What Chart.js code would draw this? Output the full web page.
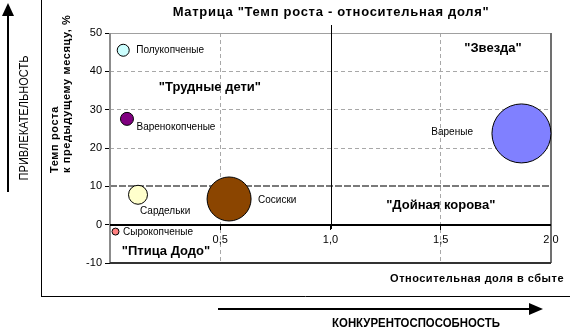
<!DOCTYPE html>
<html lang="ru">
<head>
<meta charset="utf-8">
<script src="https://cdn.jsdelivr.net/npm/chart.js@4/dist/chart.umd.min.js"></script>
<style>
  html, body { margin: 0; padding: 0; background: #fff; }
  canvas { display: block; }
</style>
</head>
<body>
<canvas id="bcg" width="570" height="331"></canvas>
<script>
// товарные группы
const products = ['Полукопченые', 'Варенокопченые', 'Сардельки', 'Сосиски', 'Вареные', 'Сырокопченые'];
// относительная доля в сбыте
const shares = [0.06, 0.077, 0.127, 0.54, 1.866, 0.025];
// темп роста к предыдущему месяцу, %
const growth = [45.5, 27.6, 7.8, 6.7, 23.8, -1.8];
// радиус пузыря (объём продаж)
const volume = [6, 6.5, 9.5, 22, 29.5, 3.5];
const colors = ['#ccffff', '#800080', '#ffffcc', '#8b4500', '#8080ff', '#ff8080'];

const xRange = [0, 2];
const yRange = [-10, 50];

// квадранты матрицы
const quadrants = ['"Трудные дети"', '"Звезда"', '"Дойная корова"', '"Птица Додо"'];
const quadX = [0.453, 1.737, 1.5, 0.254];
const quadY = [35.7, 45.9, 5.1, -7.1];

// где писать подпись относительно пузыря
const labelPlace = {
  'Полукопченые':   { side: 'right', dx: 7, dy: 0 },
  'Варенокопченые': { side: 'right', dx: 3, dy: 8 },
  'Сардельки':      { side: 'below', dx: 2, dy: 16 },
  'Сосиски':        { side: 'right', dx: 7, dy: 1 },
  'Вареные':        { side: 'left',  dx: 19, dy: -1 },
  'Сырокопченые':   { side: 'right', dx: 4, dy: 1 }
};

const FONT = 'Arial, "Liberation Sans", sans-serif';

function line(ctx, x1, y1, x2, y2, color, width, dash) {
  ctx.beginPath();
  ctx.setLineDash(dash || []);
  ctx.strokeStyle = color;
  ctx.lineWidth = width;
  ctx.moveTo(x1, y1);
  ctx.lineTo(x2, y2);
  ctx.stroke();
  ctx.setLineDash([]);
}

function spaced(ctx, px) {
  if ('letterSpacing' in ctx) ctx.letterSpacing = px + 'px';
}

const matrixDecor = {
  id: 'matrixDecor',
  beforeDatasetsDraw(chart) {
    const { ctx, chartArea: a, scales: { x, y } } = chart;
    const y0 = Math.round(y.getPixelForValue(0));
    const y10 = Math.round(y.getPixelForValue(10));
    const x1 = Math.round(x.getPixelForValue(1)) + 0.5;
    ctx.save();
    line(ctx, a.left, y10, a.right, y10, '#7a7a7a', 2, [7, 2]);
    line(ctx, a.left, a.top + 0.5, a.right, a.top + 0.5, '#a0a0a0', 1);
    line(ctx, a.left, a.top, a.left, a.bottom, '#8c8c8c', 2);
    line(ctx, a.right, a.top, a.right, a.bottom, '#707070', 2);
    line(ctx, a.left, a.bottom, a.right, a.bottom, '#333', 2);
    line(ctx, a.left, y0, a.right, y0, '#000', 2);
    line(ctx, x1, a.top - 8, x1, y0 + 4, '#000', 1);
    ctx.restore();
  },
  afterDatasetsDraw(chart) {
    const { ctx, scales: { x, y } } = chart;
    ctx.save();
    ctx.fillStyle = '#000';
    ctx.textBaseline = 'middle';

    ctx.font = 'bold 13px ' + FONT;
    ctx.textAlign = 'center';
    quadrants.forEach((q, i) => {
      ctx.fillText(q, x.getPixelForValue(quadX[i]), y.getPixelForValue(quadY[i]));
    });

    ctx.font = '10px ' + FONT;
    chart.getDatasetMeta(0).data.forEach((pt, i) => {
      const p = labelPlace[products[i]];
      const r = volume[i];
      if (p.side === 'right') {
        ctx.textAlign = 'left';
        ctx.fillText(products[i], pt.x + r + p.dx, pt.y + p.dy);
      } else if (p.side === 'left') {
        ctx.textAlign = 'right';
        ctx.fillText(products[i], pt.x - r - p.dx, pt.y + p.dy);
      } else {
        ctx.textAlign = 'left';
        ctx.fillText(products[i], pt.x + p.dx, pt.y + p.dy);
      }
    });
    ctx.restore();
  },
  afterDraw(chart) {
    const { ctx } = chart;
    ctx.save();
    ctx.fillStyle = '#000';
    ctx.textBaseline = 'middle';

    ctx.font = 'bold 13px ' + FONT;
    ctx.textAlign = 'center';
    spaced(ctx, 0.7);
    ctx.fillText('Матрица "Темп роста - относительная доля"', 331, 12);

    ctx.font = 'bold 11px ' + FONT;
    ctx.textAlign = 'right';
    spaced(ctx, 0.5);
    ctx.fillText('Относительная доля в сбыте', 564, 279);

    // подпись оси Y в две строки
    ctx.save();
    ctx.translate(55, 173);
    ctx.rotate(-Math.PI / 2);
    ctx.textAlign = 'left';
    spaced(ctx, 0.6);
    ctx.fillText('Темп роста', 0, 0);
    ctx.fillText('к предыдущему месяцу, %', 0, 12);
    ctx.restore();
    spaced(ctx, 0);

    // рамка области диаграммы
    line(ctx, 41.5, 0, 41.5, 296.5, '#000', 1);
    line(ctx, 41, 296.5, 570, 296.5, '#000', 1);

    // стрелка привлекательности
    line(ctx, 8, 14, 8, 192, '#000', 2);
    ctx.beginPath();
    ctx.moveTo(8, 3);
    ctx.lineTo(2, 16);
    ctx.lineTo(14, 16);
    ctx.closePath();
    ctx.fill();
    ctx.save();
    ctx.translate(25, 118);
    ctx.rotate(-Math.PI / 2);
    ctx.scale(0.92, 1);
    ctx.font = '12px ' + FONT;
    ctx.textAlign = 'center';
    ctx.fillText('ПРИВЛЕКАТЕЛЬНОСТЬ', 0, 0);
    ctx.restore();

    // стрелка конкурентоспособности
    line(ctx, 218, 309, 531, 309, '#000', 2);
    ctx.beginPath();
    ctx.moveTo(543, 309);
    ctx.lineTo(529, 303);
    ctx.lineTo(529, 315);
    ctx.closePath();
    ctx.fill();
    ctx.save();
    ctx.translate(416, 324);
    ctx.scale(0.95, 1);
    ctx.font = 'bold 12px ' + FONT;
    ctx.textAlign = 'center';
    ctx.fillText('КОНКУРЕНТОСПОСОБНОСТЬ', 0, 0);
    ctx.restore();
    ctx.restore();
  }
};

const points = products.map((p, i) => ({ x: shares[i], y: growth[i], r: volume[i] }));

new Chart(document.getElementById('bcg'), {
  type: 'bubble',
  data: {
    datasets: [{
      data: points,
      backgroundColor: colors,
      borderColor: '#000',
      borderWidth: 1,
      clip: false
    }]
  },
  options: {
    responsive: false,
    animation: false,
    events: [],
    // без autoPadding крупный пузырь не сдвигает правый край поля
    layout: { autoPadding: false, padding: { left: 80, top: 33, right: 19, bottom: 68 } },
    plugins: { legend: { display: false }, tooltip: { enabled: false } },
    scales: {
      x: {
        axis: 'x',
        type: 'linear',
        position: { y: 0 },
        min: xRange[0],
        max: xRange[1],
        ticks: {
          stepSize: 0.5,
          autoSkip: false,
          maxRotation: 0,
          color: '#000',
          font: { family: FONT, size: 11 },
          padding: 4,
          callback: v => v === 0 ? '' : v.toFixed(1).replace('.', ',')
        },
        grid: {
          color: c => (c.tick && (c.tick.value === 0.5 || c.tick.value === 1.5)) ? '#a8a8a8' : 'rgba(0,0,0,0)',
          tickColor: c => (c.tick && c.tick.value === 0) ? 'rgba(0,0,0,0)' : '#000',
          tickLength: 5,
          lineWidth: 1
        },
        border: { display: false, dash: [4, 3] }
      },
      y: {
        type: 'linear',
        min: yRange[0],
        max: yRange[1],
        afterFit(scale) { scale.width = 30; },
        ticks: {
          stepSize: 10,
          color: '#000',
          font: { family: FONT, size: 11 },
          padding: 3
        },
        grid: {
          color: c => (c.tick && [20, 30, 40].includes(c.tick.value)) ? '#a8a8a8' : 'rgba(0,0,0,0)',
          tickColor: '#000',
          tickLength: 5,
          lineWidth: 1
        },
        border: { display: false, dash: [4, 3] }
      }
    }
  },
  plugins: [matrixDecor]
});
</script>
</body>
</html>
